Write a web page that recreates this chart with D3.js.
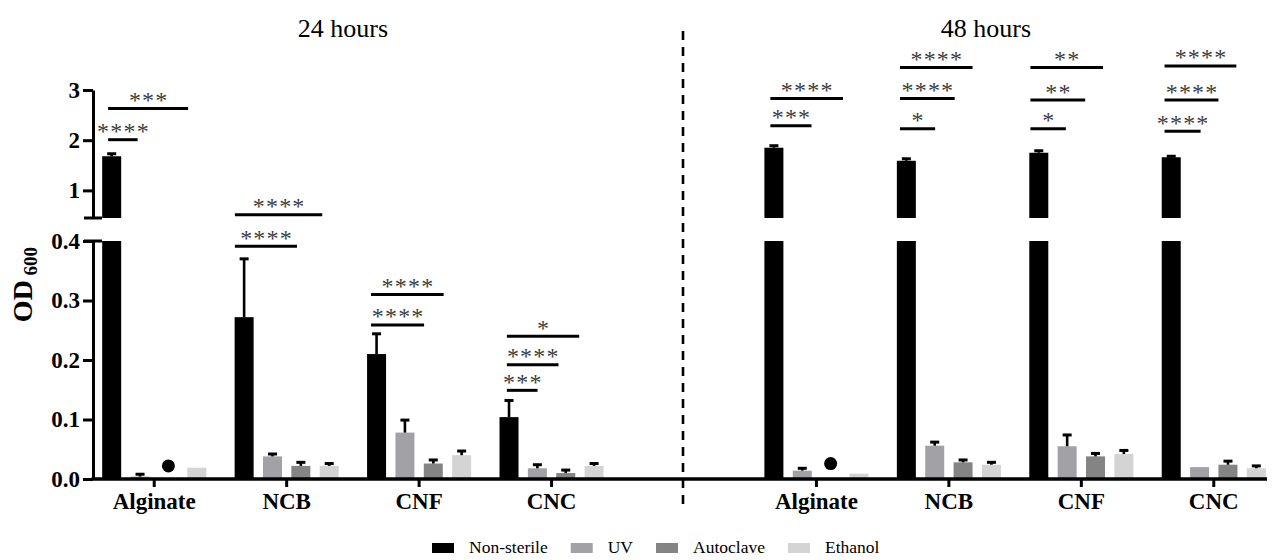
<!DOCTYPE html>
<html><head><meta charset="utf-8">
<script src="https://cdn.jsdelivr.net/npm/d3@7"></script>
<style>
body{margin:0;background:#fff;}
svg{display:block;font-family:"Liberation Serif","Times New Roman","DejaVu Serif",serif;}
</style></head><body>
<svg id="chart" width="1280" height="560"></svg>
<script>
// ---------- data ----------
const categories = ["Alginate", "NCB", "CNF", "CNC"];
const timepoints = ["24 hours", "48 hours"];
const series = ["Non-sterile", "UV", "Autoclave", "Ethanol"];
const seriesColors = ["#000000", "#a2a2a6", "#848484", "#d4d4d4"];

// OD600 means, 24 h
const nonSterile24 = [1.68, 0.272, 0.210, 0.104];
const uv24         = [0.004, 0.038, 0.078, 0.018];
const autoclave24  = [0, 0.022, 0.026, 0.010];
const ethanol24    = [0.019, 0.022, 0.040, 0.022];
// upper error, 24 h
const nonSterile24Err = [0.05, 0.098, 0.034, 0.028];
const uv24Err         = [0.004, 0.004, 0.021, 0.006];
const autoclave24Err  = [0, 0.006, 0.006, 0.005];
const ethanol24Err    = [0, 0.004, 0.007, 0.004];

// OD600 means, 48 h
const nonSterile48 = [1.85, 1.59, 1.75, 1.66];
const uv48         = [0.014, 0.056, 0.055, 0.020];
const autoclave48  = [0, 0.028, 0.038, 0.024];
const ethanol48    = [0.009, 0.024, 0.042, 0.018];
// upper error, 48 h
const nonSterile48Err = [0.04, 0.04, 0.04, 0.02];
const uv48Err         = [0.004, 0.006, 0.019, 0];
const autoclave48Err  = [0, 0.004, 0.005, 0.006];
const ethanol48Err    = [0, 0.004, 0.006, 0.004];

// circle symbols
const markerTime = ["24 hours", "48 hours"];
const markerCategory = ["Alginate", "Alginate"];
const markerSeries = ["Autoclave", "Autoclave"];
const markerValue = [0.022, 0.026];

// y-axis ticks (broken axis)
const lowerTicks = [0.0, 0.1, 0.2, 0.3, 0.4];
const upperTicks = [1, 2, 3];

// significance brackets (from/to in bar-index units within group, level in OD units)
const sigTime = ["24 hours","24 hours","24 hours","24 hours","24 hours","24 hours","24 hours","24 hours","24 hours",
                 "48 hours","48 hours","48 hours","48 hours","48 hours","48 hours","48 hours","48 hours","48 hours","48 hours","48 hours"];
const sigCategory = ["Alginate","Alginate","NCB","NCB","CNF","CNF","CNC","CNC","CNC",
                     "Alginate","Alginate","NCB","NCB","NCB","CNF","CNF","CNF","CNC","CNC","CNC"];
const sigFrom = [0.21,0.21,0.01,0.01,0.14,0.14,0.26,0.26,0.26,
                 0.21,0.21,0.11,0.11,0.11,0.04,0.04,0.04,0.10,0.10,0.10];
const sigTo = [1.25,3.03,2.20,3.09,2.01,2.70,1.34,2.08,2.81,
               1.66,2.77,1.35,2.04,2.67,1.29,1.97,2.60,1.37,2.00,2.63];
const sigLevel = [2.01,2.63,0.391,0.514,0.259,0.31,0.149,0.192,0.240,
                  2.29,2.83,2.23,2.83,3.45,2.23,2.80,3.45,2.18,2.80,3.48];
const sigLabel = ["****","***","****","****","****","****","***","****","*",
                  "***","****","*","****","****","*","**","**","****","****","****"];

// ---------- build ----------
const values = {
  "24 hours": [nonSterile24, uv24, autoclave24, ethanol24],
  "48 hours": [nonSterile48, uv48, autoclave48, ethanol48]
};
const errors = {
  "24 hours": [nonSterile24Err, uv24Err, autoclave24Err, ethanol24Err],
  "48 hours": [nonSterile48Err, uv48Err, autoclave48Err, ethanol48Err]
};
const serifFont = "Liberation Serif, Times New Roman, DejaVu Serif, serif";

const svg = d3.select("#chart");
const slotKeys = [];
timepoints.forEach((t, ti) => {
  categories.forEach(c => slotKeys.push(t + "|" + c));
  if (ti === 0) slotKeys.push("gap");
});

const x = d3.scaleBand().domain(slotKeys).range([88, 1280]);
const inner = d3.scaleBand().domain(series).range([0, x.bandwidth()]).paddingInner(0.33).paddingOuter(0.5);
const center = k => x(k) + x.bandwidth() / 2;

const lowerY = d3.scaleLinear().domain([0, 0.4]).range([479, 241]);
const upperY = d3.scaleLinear().domain([0.45, 3]).range([218, 90]);
const breakLow = 0.4, breakHigh = 0.45;
const yv = v => v > 0.42 ? upperY(v) : lowerY(v);

const axisX = 93;

// bars
const barG = svg.append("g");
timepoints.forEach(t => {
  categories.forEach((c, ci) => {
    series.forEach((s, si) => {
      const v = values[t][si][ci];
      if (!v) return;
      const bx = x(t + "|" + c) + inner(s);
      const bw = inner.bandwidth();
      const col = seriesColors[si];
      if (v <= breakLow) {
        barG.append("rect").attr("x", bx).attr("width", bw)
          .attr("y", lowerY(v)).attr("height", lowerY(0) - lowerY(v)).attr("fill", col);
      } else {
        barG.append("rect").attr("x", bx).attr("width", bw)
          .attr("y", lowerY(breakLow)).attr("height", lowerY(0) - lowerY(breakLow)).attr("fill", col);
        barG.append("rect").attr("x", bx).attr("width", bw)
          .attr("y", upperY(v)).attr("height", upperY(breakHigh) - upperY(v)).attr("fill", col);
      }
      const e = errors[t][si][ci];
      if (e) {
        const cx = bx + bw / 2;
        const yTop = yv(v + e);
        barG.append("line").attr("x1", cx).attr("x2", cx).attr("y1", yv(v)).attr("y2", yTop)
          .attr("stroke", "#000").attr("stroke-width", 2.6);
        barG.append("line").attr("x1", cx - 4.5).attr("x2", cx + 4.5).attr("y1", yTop).attr("y2", yTop)
          .attr("stroke", "#000").attr("stroke-width", 3);
      }
    });
  });
});

// markers
markerValue.forEach((v, i) => {
  const cx = x(markerTime[i] + "|" + markerCategory[i]) + inner(markerSeries[i]) + inner.bandwidth() / 2;
  svg.append("circle").attr("cx", cx).attr("cy", yv(v)).attr("r", 6.5).attr("fill", "#000");
});

// y axes
const lowerAxis = svg.append("g").attr("transform", `translate(${axisX},0)`)
  .call(d3.axisLeft(lowerY).tickValues(lowerTicks).tickFormat(d3.format(".1f")).tickSize(10).tickSizeOuter(0).tickPadding(3));
const upperAxis = svg.append("g").attr("transform", `translate(${axisX},0)`)
  .call(d3.axisLeft(upperY).tickValues(upperTicks).tickFormat(d3.format("d")).tickSize(10).tickSizeOuter(0).tickPadding(3));
[lowerAxis, upperAxis].forEach(g => {
  g.select(".domain").attr("stroke", "#000").attr("stroke-width", 3);
  g.selectAll(".tick line").attr("stroke", "#000").attr("stroke-width", 3);
  g.selectAll(".tick text").attr("font-family", serifFont)
    .attr("font-weight", "bold").attr("font-size", 23).attr("fill", "#000");
});
// break marks
[upperY(breakHigh), lowerY(breakLow)].forEach(yy => {
  svg.append("line").attr("x1", axisX - 9).attr("x2", axisX + 9).attr("y1", yy).attr("y2", yy)
    .attr("stroke", "#000").attr("stroke-width", 3);
});

// x axis
const catSlots = slotKeys.filter(k => k !== "gap");
const xAxisG = svg.append("g").attr("transform", `translate(0,${lowerY(0)})`)
  .call(d3.axisBottom(x).tickValues(catSlots).tickFormat(k => k.split("|")[1]).tickSize(8).tickPadding(6).tickSizeOuter(0));
xAxisG.select(".domain").remove();
xAxisG.selectAll(".tick line").attr("stroke", "#000").attr("stroke-width", 3);
xAxisG.selectAll(".tick text").attr("font-family", serifFont)
  .attr("font-weight", "bold").attr("font-size", 23).attr("fill", "#000");
svg.append("line").attr("x1", axisX - 1.5).attr("x2", x.range()[1] - 13)
  .attr("y1", lowerY(0)).attr("y2", lowerY(0)).attr("stroke", "#000").attr("stroke-width", 3.5);

// dashed separator
const gapX = center("gap") - 1;
svg.append("line").attr("x1", gapX).attr("x2", gapX).attr("y1", 31).attr("y2", 506)
  .attr("stroke", "#000").attr("stroke-width", 2.6).attr("stroke-dasharray", "9,7");

// titles
const titleX = [center("24 hours|NCB") + x.bandwidth() * 0.425, center("48 hours|NCB") + x.bandwidth() * 0.28];
timepoints.forEach((t, i) => {
  svg.append("text").attr("x", titleX[i]).attr("y", 37).attr("text-anchor", "middle")
    .attr("font-family", serifFont).attr("font-size", 26).attr("fill", "#000").text(t);
});

// significance brackets
const ls = 1.2;
sigLabel.forEach((lab, i) => {
  const base = x(sigTime[i] + "|" + sigCategory[i]) + inner(series[0]);
  const x1 = base + sigFrom[i] * inner.step();
  const x2 = base + sigTo[i] * inner.step();
  const yy = yv(sigLevel[i]);
  svg.append("line").attr("x1", x1).attr("x2", x2).attr("y1", yy).attr("y2", yy)
    .attr("stroke", "#000").attr("stroke-width", 3);
  svg.append("text").attr("x", (x1 + x2) / 2 + ls / 2).attr("y", yy - 0.5)
    .attr("text-anchor", "middle").attr("font-family", serifFont).attr("font-size", 24)
    .attr("letter-spacing", ls).attr("fill", "#3c3c3c").text(lab);
});

// y label
const yl = svg.append("text").attr("transform", "translate(32,284.5) rotate(-90)")
  .attr("text-anchor", "middle").attr("font-family", serifFont).attr("font-weight", "bold").attr("fill", "#000");
yl.append("tspan").attr("font-size", 28).text("OD");
yl.append("tspan").attr("font-size", 19).attr("dy", 5).text(" 600");

// legend
let lx = 432;
series.forEach((s, i) => {
  svg.append("rect").attr("x", lx).attr("y", 543).attr("width", 22).attr("height", 10).attr("fill", seriesColors[i]);
  const tx = svg.append("text").attr("x", lx + 37).attr("y", 553).attr("font-family", serifFont)
    .attr("font-size", 17.5).attr("fill", "#000").text(s);
  lx += 37 + tx.node().getComputedTextLength() + 23;
});
</script>
</body></html>
